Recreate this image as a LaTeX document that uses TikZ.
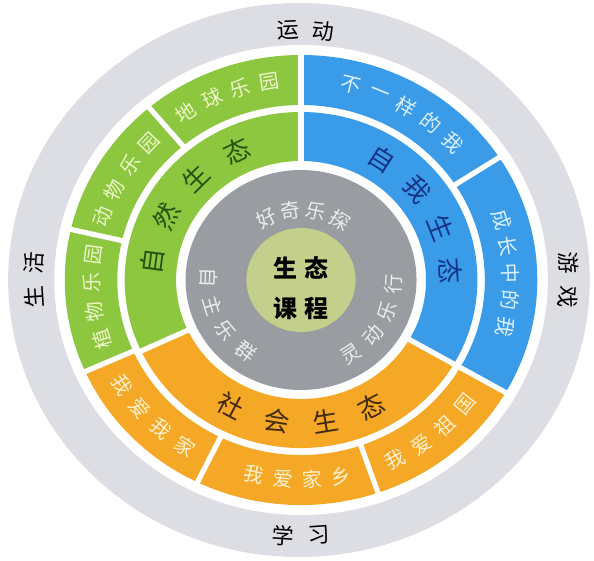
\documentclass[tikz,border=0pt]{standalone}
\usepackage{fontspec}
\newfontfamily\cjk{Noto Sans CJK SC}

\definecolor{ringgray}{RGB}{221,222,227}
\definecolor{discgray}{RGB}{153,156,161}
\definecolor{coregreen}{RGB}{197,207,140}
\definecolor{grn}{RGB}{141,198,63}
\definecolor{blu}{RGB}{58,156,232}
\definecolor{org}{RGB}{245,168,38}
\definecolor{grntext}{RGB}{236,246,200}
\definecolor{blutext}{RGB}{222,240,255}
\definecolor{orgtext}{RGB}{255,241,206}
\definecolor{grndark}{RGB}{38,84,16}
\definecolor{bludark}{RGB}{22,52,135}
\definecolor{orgdark}{RGB}{66,42,10}

\tikzset{
  every node/.style={inner sep=0pt},
  sepline/.style={white, line width=2.6pt},
  worldlab/.style={font=\cjk\fontsize{11}{11}\selectfont, text=black},
  themelab/.style={font=\cjk\fontsize{10}{10}\selectfont},
  ecolab/.style={font=\cjk\fontsize{13}{13}\selectfont},
  disclab/.style={font=\cjk\fontsize{10}{10}\selectfont, text=white!92!black},
}

% annular sector: colour, from, to, inner radius, outer radius
\newcommand{\ringsector}[5]{%
  \fill[#1] (#2:#4) arc[start angle=#2, end angle=#3, radius=#4]
    -- (#3:#5) arc[start angle=#3, end angle=#2, radius=#5] -- cycle;}

% characters round the centre: name, dir (1 cw / -1 ccw), radius, mid angle, step, style, count, chars
\newcommand{\arclabel}[8]{%
  \foreach \ch [count=\i from 0] in {#8} {
    \pgfmathsetmacro{\ang}{#4+(#2)*#5*((#7-1)/2-\i)}
    \pgfmathsetmacro{\rot}{\ang-(#2)*90}
    \node[#6, rotate=\rot] (#1-\i) at (\ang:#3) {\ch};
  }}

\begin{document}
\begin{tikzpicture}[x=0.5pt, y=0.5pt, xscale=1.05]
\useasboundingbox (-286.7,-280) rectangle (279,280);

% outer world ring
\fill[ringgray] (-2,0) circle (277);
\fill[white] (0,0) circle (235);

% middle ring
\ringsector{grn}{90}{205}{119}{168}
\ringsector{org}{205}{330}{119}{168}
\ringsector{blu}{-30}{90}{119}{168}
% outer ring
\ringsector{grn}{90}{204}{175}{225}
\ringsector{org}{204}{330}{175}{225}
\ringsector{blu}{-30}{90}{175}{225}

% separators
\draw[sepline] (90:116) -- (90:228);
\draw[sepline] (205:116) -- (205:171);
\draw[sepline] (330:116) -- (330:228);
\draw[sepline] (204:172) -- (204:228);
\foreach \a in {130,167,244,289,33}
  \draw[sepline] (\a:172) -- (\a:228);

% core
\fill[discgray] (0,0) circle (110);
\fill[coregreen] (0,0) circle (52);

% world labels
\arclabel{yd}{1}{250}{89}{7.7}{worldlab}{2}{运,动}
\arclabel{yx}{1}{255}{0}{7.7}{worldlab}{2}{游,戏}
\arclabel{sh}{1}{255}{180}{7.7}{worldlab}{2}{生,活}
\arclabel{xx}{-1}{256}{270}{7.7}{worldlab}{2}{学,习}

% outer ring labels
\arclabel{dq}{1}{200}{111}{8.2}{themelab, text=grntext}{4}{地,球,乐,园}
\arclabel{dw}{1}{199}{149}{8.3}{themelab, text=grntext}{4}{动,物,乐,园}
\arclabel{zw}{1}{199}{185}{8.3}{themelab, text=grntext}{4}{植,物,乐,园}
\arclabel{by}{1}{200}{60}{8.2}{themelab, text=blutext}{5}{不,一,样,的,我}
\arclabel{cz}{1}{200}{2}{7.8}{themelab, text=blutext}{5}{成,长,中,的,我}
\arclabel{zg}{-1}{200}{309}{8.3}{themelab, text=orgtext}{4}{我,爱,祖,国}
\arclabel{jx}{-1}{200}{269}{8}{themelab, text=orgtext}{4}{我,爱,家,乡}
\arclabel{wj}{-1}{200}{224}{8.3}{themelab, text=orgtext}{4}{我,爱,我,家}

% middle ring labels
\arclabel{zr}{1}{143}{144}{19}{ecolab, text=grndark}{4}{自,然,生,态}
\arclabel{zwo}{1}{143}{30.5}{18}{ecolab, text=bludark}{4}{自,我,生,态}
\arclabel{shh}{-1}{143}{270}{18.7}{ecolab, text=orgdark}{4}{社,会,生,态}

% disc labels
\arclabel{hq}{1}{70}{88}{20}{disclab}{4}{好,奇,乐,探}
\arclabel{zz}{-1}{88}{206}{18.5}{disclab}{4}{自,主,乐,群}
\arclabel{ld}{-1}{88}{330}{18}{disclab}{4}{灵,动,乐,行}

% centre
\node[font=\cjk\bfseries\fontsize{12}{20}\selectfont, align=center] (core) at (0,-8)
  {生\hspace{0.3em}态\\课\hspace{0.3em}程};
\end{tikzpicture}
\end{document}
